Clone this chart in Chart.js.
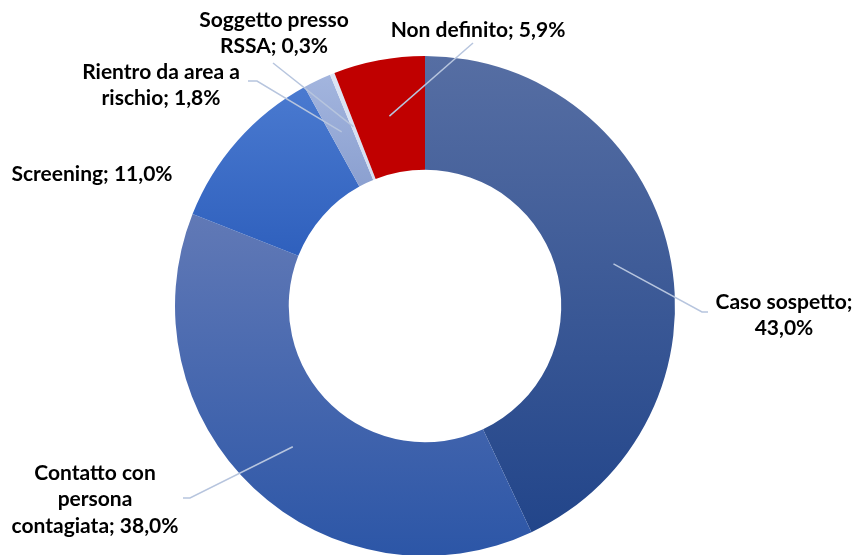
<!DOCTYPE html>
<html lang="it">
<head>
<meta charset="utf-8">
<title>Motivo del test</title>
<script src="https://cdn.jsdelivr.net/npm/chart.js@4.4.1/dist/chart.umd.min.js"></script>
<style>
  html, body { margin: 0; padding: 0; background: #fff; overflow: hidden; }
  #chart-wrap { position: relative; width: 858px; height: 556px; }
</style>
</head>
<body>
<div id="chart-wrap"><canvas id="motivo-chart"></canvas></div>
<script>
// Motivo di esecuzione del test (% sul totale)
const categories = [
  'Caso sospetto',
  'Contatto con persona contagiata',
  'Screening',
  'Rientro da area a rischio',
  'Soggetto presso RSSA',
  'Non definito'
];
const percentages = [43.0, 38.0, 11.0, 1.8, 0.3, 5.9];

// gradient colours per slice (top -> bottom)
const colorsTop = ['#566ea3', '#6179b6', '#4a7ad0', '#a3b5de', '#dde5f4', '#c00000'];
const colorsBottom = ['#22458a', '#2c56a7', '#2f60bd', '#8ba0d0', '#d3ddf0', '#c00000'];

// label placement: words per line, centre x, first line y, leader start / elbow
const labelLayout = [
  { lines: [2, 1], x: 784, y: 302, lead: [[708, 312], [702, 312]] },
  { lines: [2, 1, 2], x: 95, y: 473, lead: [[183, 498], [190, 498]] },
  { lines: [2], x: 92, y: 174, lead: null },
  { lines: [4, 2], x: 161, y: 72, lead: [[248, 81], [257, 81]] },
  { lines: [2, 2], x: 274, y: 20, lead: [[273, 63], [273, 63]] },
  { lines: [3], x: 478, y: 30, lead: [[473, 43], [473, 43]] }
];

const LABEL_FONT = 'bold 21px Lato, "Open Sans", sans-serif';
const LINE_HEIGHT = 26.5;

function fmtPct(v) {
  return v.toFixed(1).replace('.', ',') + '%';
}

// vertical extent of an arc, used for its gradient
function arcYRange(arc) {
  const { y, startAngle, endAngle, innerRadius, outerRadius } = arc.getProps(
    ['y', 'startAngle', 'endAngle', 'innerRadius', 'outerRadius'], true);
  let min = Infinity, max = -Infinity;
  const steps = 60;
  for (let i = 0; i <= steps; i++) {
    const a = startAngle + (endAngle - startAngle) * i / steps;
    for (const r of [innerRadius, outerRadius]) {
      const py = y + r * Math.sin(a);
      min = Math.min(min, py);
      max = Math.max(max, py);
    }
  }
  return [min, max];
}

const gradientFill = {
  id: 'gradientFill',
  beforeDatasetsDraw(chart) {
    const ctx = chart.ctx;
    chart.getDatasetMeta(0).data.forEach((arc, i) => {
      const [y0, y1] = arcYRange(arc);
      const g = ctx.createLinearGradient(0, y0, 0, y1);
      g.addColorStop(0, colorsTop[i]);
      g.addColorStop(1, colorsBottom[i]);
      arc.options.backgroundColor = g;
    });
  }
};

const sliceLabels = {
  id: 'sliceLabels',
  afterDatasetsDraw(chart) {
    const ctx = chart.ctx;
    const meta = chart.getDatasetMeta(0);
    ctx.save();
    meta.data.forEach((arc, i) => {
      const lay = labelLayout[i];
      if (lay.lead) {
        const end = arc.tooltipPosition(true);
        ctx.strokeStyle = '#b7c5de';
        ctx.lineWidth = 1.5;
        ctx.beginPath();
        ctx.moveTo(lay.lead[0][0], lay.lead[0][1]);
        ctx.lineTo(lay.lead[1][0], lay.lead[1][1]);
        ctx.lineTo(end.x, end.y);
        ctx.stroke();
      }
      const words = (categories[i] + '; ' + fmtPct(percentages[i])).split(' ');
      let k = 0;
      ctx.font = LABEL_FONT;
      ctx.fillStyle = '#000';
      ctx.textAlign = 'center';
      ctx.textBaseline = 'middle';
      lay.lines.forEach((n, li) => {
        const line = words.slice(k, k + n).join(' ');
        k += n;
        ctx.fillText(line, lay.x, lay.y + li * LINE_HEIGHT);
      });
    });
    ctx.restore();
  }
};

new Chart(document.getElementById('motivo-chart'), {
  type: 'doughnut',
  data: {
    labels: categories,
    datasets: [{
      data: percentages,
      backgroundColor: colorsBottom,
      borderWidth: 0,
      hoverOffset: 0,
      offset: 0
    }]
  },
  options: {
    responsive: true,
    maintainAspectRatio: false,
    animation: false,
    events: [],
    cutout: '54.5%',
    layout: { padding: { top: 56, left: 0, right: 8, bottom: 0 } },
    plugins: {
      legend: { display: false },
      tooltip: { enabled: false }
    }
  },
  plugins: [gradientFill, sliceLabels]
});
</script>
</body>
</html>
